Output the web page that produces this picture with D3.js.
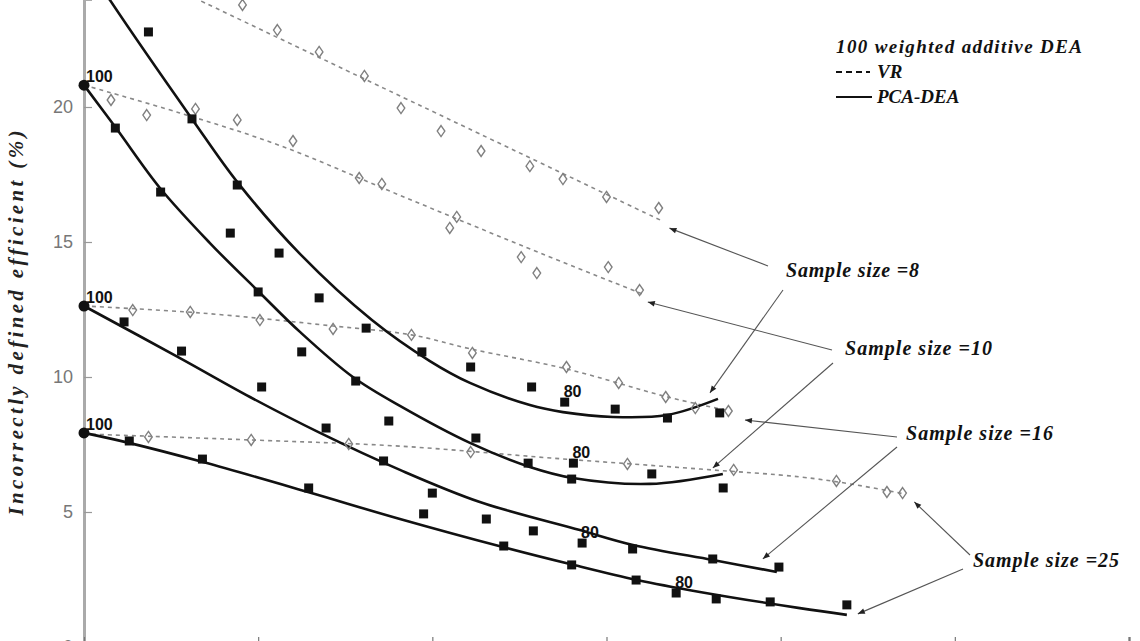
<!DOCTYPE html>
<html>
<head>
<meta charset="utf-8">
<script src="https://cdn.jsdelivr.net/npm/d3@7"></script>
<style>
  html, body { margin: 0; padding: 0; background: #fff; overflow: hidden; }
  .serif { font-family: "Liberation Serif", "Times New Roman", serif; font-style: italic; font-weight: bold; }
  .sans { font-family: "Liberation Sans", Arial, sans-serif; }
</style>
</head>
<body>
<script>
// axis ticks (x tick labels are cut off in the reference)
const xTicks = [0, 1, 2, 3, 4, 5, 6];
const yTicks = [0, 5, 10, 15, 20];

// sample size = 8
const vr8Points = [[0.91, 23.78], [1.11, 22.85], [1.35, 22.04], [1.61, 21.15], [1.82, 19.96], [2.05, 19.11],
    [2.28, 18.37], [2.56, 17.81], [2.75, 17.33], [3.00, 16.67], [3.30, 16.26]];
const vr8Fit = [[0.55, 24.3], [1.72, 20.70], [2.14, 19.41], [3.31, 15.81]];
const pca8Points = [[0.37, 22.78], [0.62, 19.56], [0.88, 17.11], [1.12, 14.59], [1.35, 12.93], [1.62, 11.81],
    [1.94, 10.93], [2.22, 10.37], [2.57, 9.63], [2.76, 9.07], [3.05, 8.81], [3.35, 8.48], [3.65, 8.67]];
const pca8Fit = [[0.115, 24.30], [0.149, 23.96], [0.62, 19.56], [0.884, 17.19], [1.24, 14.56], [1.653, 12.11],
    [1.986, 10.59], [2.216, 9.78], [2.56, 8.96], [2.75, 8.70], [3.037, 8.52], [3.347, 8.59], [3.64, 9.19]];

// sample size = 10
const vr10Points = [[0.155, 20.26], [0.36, 19.70], [0.64, 19.93], [0.88, 19.52], [1.20, 18.74], [1.58, 17.37],
    [1.71, 17.15], [2.14, 15.93], [2.10, 15.52], [2.51, 14.44], [2.60, 13.85], [3.01, 14.07], [3.19, 13.22]];
const vr10Fit = [[0, 20.81], [0.55, 19.78], [1.13, 18.56], [1.81, 16.74], [2.52, 14.85], [3.22, 13.04]];
const pca10Points = [[0.18, 19.22], [0.44, 16.85], [0.84, 15.33], [1.00, 13.15], [1.25, 10.93], [1.56, 9.85],
    [1.75, 8.37], [2.25, 7.74], [2.55, 6.81], [2.81, 6.81], [2.80, 6.22], [3.26, 6.41], [3.67, 5.89]];
const pca10Fit = [[0, 20.81], [0.184, 19.22], [0.436, 17.0], [0.723, 14.96], [1.005, 13.15], [1.24, 11.67],
    [1.544, 10.0], [1.814, 8.93], [2.216, 7.56], [2.56, 6.67], [2.807, 6.26], [3.249, 6.04], [3.668, 6.41]];

// sample size = 16
const vr16Points = [[0.28, 12.48], [0.61, 12.41], [1.01, 12.11], [1.43, 11.78], [1.88, 11.56], [2.23, 10.89],
    [2.77, 10.37], [3.07, 9.78], [3.34, 9.26], [3.51, 8.85], [3.70, 8.74]];
const vr16Fit = [[0, 12.63], [0.67, 12.37], [1.43, 11.89], [1.88, 11.56], [2.22, 11.04], [2.77, 10.30],
    [3.35, 9.26], [3.68, 8.78]];
const pca16Points = [[0.23, 12.04], [0.56, 10.96], [1.02, 9.63], [1.39, 8.11], [1.72, 6.89], [2.00, 5.70],
    [2.31, 4.74], [2.58, 4.30], [2.86, 3.85], [3.15, 3.63], [3.61, 3.26], [3.99, 2.96]];
const pca16Fit = [[0, 12.63], [0.551, 10.70], [0.953, 9.26], [1.355, 7.93], [1.814, 6.56], [2.273, 5.37],
    [2.847, 4.33], [3.152, 3.78], [3.611, 3.22], [3.978, 2.78]];

// sample size = 25
const vr25Points = [[0.37, 7.78], [0.96, 7.67], [1.52, 7.52], [2.22, 7.22], [3.12, 6.78], [3.73, 6.56],
    [4.32, 6.15], [4.61, 5.74], [4.70, 5.70]];
const vr25Fit = [[0, 7.89], [0.95, 7.67], [1.81, 7.44], [2.68, 7.00], [3.54, 6.59], [4.11, 6.30],
    [4.40, 6.04], [4.71, 5.67]];
const pca25Points = [[0.26, 7.63], [0.68, 6.96], [1.29, 5.89], [1.95, 4.93], [2.41, 3.74], [2.80, 3.04],
    [3.17, 2.48], [3.40, 2.00], [3.63, 1.78], [3.94, 1.67], [4.38, 1.56]];
const pca25Fit = [[0, 7.93], [0.258, 7.56], [0.683, 6.85], [1.286, 5.74], [1.814, 4.74], [2.405, 3.70],
    [2.79, 3.07], [3.175, 2.48], [3.536, 2.04], [4.11, 1.44], [4.38, 1.19]];

// "100" start points and "80" marked points
const startPoints = [[0, 20.81], [0, 12.63], [0, 7.93]];
const startLabel = "100";
const marked80 = [[2.76, 9.07], [2.81, 6.81], [2.86, 3.85], [3.40, 2.00]];
const markedLabel = "80";

const sampleNames = ["Sample size =8", "Sample size =10", "Sample size =16", "Sample size =25"];
const legendTitle = "100 weighted additive DEA";
const legendItems = ["VR", "PCA-DEA"];
const yTitle = "Incorrectly defined efficient (%)";

const width = 1140, height = 641;

const x = d3.scaleLinear().domain([0, 6]).range([84, 1129]);
const y = d3.scaleLinear().domain([0, 24]).range([647, -1]);

const svg = d3.select("body").append("svg")
    .attr("width", width)
    .attr("height", height)
    .style("display", "block");

svg.append("defs").append("marker")
    .attr("id", "arrow")
    .attr("viewBox", "0 0 10 10")
    .attr("refX", 10).attr("refY", 5)
    .attr("markerWidth", 10).attr("markerHeight", 7)
    .attr("markerUnits", "userSpaceOnUse")
    .attr("orient", "auto")
    .append("path")
    .attr("d", "M0,1 L10,5 L0,9 Z")
    .attr("fill", "#222");

// axes
const yAxis = svg.append("g")
    .attr("transform", "translate(" + x(0) + ",0)")
    .call(d3.axisRight(y).tickValues(yTicks).tickSize(8).tickFormat(""));
yAxis.select(".domain").attr("stroke", "#aaa").attr("stroke-width", 3);
yAxis.selectAll(".tick line").attr("stroke", "#999").attr("stroke-width", 1.2);

svg.append("g").selectAll("text")
    .data(yTicks)
    .enter().append("text")
    .attr("class", "sans")
    .attr("x", x(0) - 11)
    .attr("y", d => y(d))
    .attr("dy", "0.36em")
    .attr("text-anchor", "end")
    .attr("font-size", 18)
    .attr("fill", "#777")
    .text(d => d);

const xAxis = svg.append("g")
    .attr("transform", "translate(0," + y(0) + ")")
    .call(d3.axisTop(x).tickValues(xTicks).tickSize(10).tickFormat(""));
xAxis.select(".domain").attr("stroke", "#aaa").attr("stroke-width", 3);
xAxis.selectAll(".tick line").attr("stroke", "#777").attr("stroke-width", 1.2);

svg.append("text")
    .attr("class", "serif")
    .attr("transform", "translate(23,323) rotate(-90)")
    .attr("text-anchor", "middle")
    .attr("font-size", 21)
    .attr("textLength", 385)
    .attr("lengthAdjust", "spacing")
    .attr("fill", "#222")
    .text(yTitle);

// fitted lines
const line = d3.line()
    .x(d => x(d[0]))
    .y(d => y(d[1]))
    .curve(d3.curveCatmullRom.alpha(0.5));

const vrFits = [vr8Fit, vr10Fit, vr16Fit, vr25Fit];
const pcaFits = [pca8Fit, pca10Fit, pca16Fit, pca25Fit];

svg.append("g").selectAll("path")
    .data(vrFits)
    .enter().append("path")
    .attr("d", line)
    .attr("fill", "none")
    .attr("stroke", "#888")
    .attr("stroke-width", 1.6)
    .attr("stroke-dasharray", "4,4");

svg.append("g").selectAll("path")
    .data(pcaFits)
    .enter().append("path")
    .attr("d", line)
    .attr("fill", "none")
    .attr("stroke", "#111")
    .attr("stroke-width", 2.6);

// markers
const vrPoints = [].concat(vr8Points, vr10Points, vr16Points, vr25Points);
const pcaPoints = [].concat(pca8Points, pca10Points, pca16Points, pca25Points);

svg.append("g").selectAll("path")
    .data(vrPoints)
    .enter().append("path")
    .attr("transform", d => "translate(" + x(d[0]) + "," + y(d[1]) + ")")
    .attr("d", "M0,-5.5 L3.8,0 L0,5.5 L-3.8,0 Z")
    .attr("fill", "none")
    .attr("stroke", "#808080")
    .attr("stroke-width", 1.4);

svg.append("g").selectAll("path")
    .data(pcaPoints)
    .enter().append("path")
    .attr("transform", d => "translate(" + x(d[0]) + "," + y(d[1]) + ")")
    .attr("d", d3.symbol().type(d3.symbolSquare).size(81))
    .attr("fill", "#111");

svg.append("g").selectAll("circle")
    .data(startPoints)
    .enter().append("circle")
    .attr("cx", d => x(d[0]))
    .attr("cy", d => y(d[1]))
    .attr("r", 5.5)
    .attr("fill", "#111");

svg.append("g").selectAll("text")
    .data(startPoints)
    .enter().append("text")
    .attr("class", "sans")
    .attr("x", d => x(d[0]) + 2)
    .attr("y", d => y(d[1]) - 3)
    .attr("font-size", 16)
    .attr("font-weight", "bold")
    .attr("fill", "#111")
    .text(startLabel);

svg.append("g").selectAll("text")
    .data(marked80)
    .enter().append("text")
    .attr("class", "sans")
    .attr("x", d => x(d[0]) - 1)
    .attr("y", d => y(d[1]) - 5)
    .attr("font-size", 16)
    .attr("font-weight", "bold")
    .attr("fill", "#111")
    .text(markedLabel);

// legend
const legend = svg.append("g");
legend.append("text")
    .attr("class", "serif")
    .attr("x", 836).attr("y", 53)
    .attr("font-size", 19)
    .attr("textLength", 246)
    .attr("lengthAdjust", "spacing")
    .attr("fill", "#111")
    .text(legendTitle);
legend.append("line")
    .attr("x1", 836).attr("x2", 870).attr("y1", 72).attr("y2", 72)
    .attr("stroke", "#111").attr("stroke-width", 2).attr("stroke-dasharray", "6,4");
legend.append("line")
    .attr("x1", 836).attr("x2", 872).attr("y1", 97).attr("y2", 97)
    .attr("stroke", "#111").attr("stroke-width", 2);
legend.selectAll("text.item")
    .data(legendItems)
    .enter().append("text")
    .attr("class", "serif item")
    .attr("x", 877)
    .attr("y", (d, i) => 78 + i * 25)
    .attr("font-size", 19)
    .attr("fill", "#111")
    .text(d => d);

// sample size labels with leader arrows
const labelPos = [[786, 277, 133], [845, 355, 147], [906, 440, 147], [973, 567, 146]];
const tails = [[[768, 266], [783, 290]], [[832, 350], [833, 363]], [[897, 437], [897, 447]], [[970, 555], [963, 569]]];
const tipOffsets = [[[9, 8], [-8, -6]], [[3, 7], [-10, -6]], [[20, 10], [-14, -13]], [[10, 8], [11, -1]]];

svg.append("g").selectAll("text")
    .data(sampleNames)
    .enter().append("text")
    .attr("class", "serif")
    .attr("x", (d, i) => labelPos[i][0])
    .attr("y", (d, i) => labelPos[i][1])
    .attr("font-size", 20)
    .attr("textLength", (d, i) => labelPos[i][2])
    .attr("lengthAdjust", "spacing")
    .attr("fill", "#111")
    .text(d => d);

const arrows = [];
sampleNames.forEach((name, i) => {
    const ends = [vrFits[i][vrFits[i].length - 1], pcaFits[i][pcaFits[i].length - 1]];
    ends.forEach((e, j) => {
        arrows.push({
            from: tails[i][j],
            to: [x(e[0]) + tipOffsets[i][j][0], y(e[1]) + tipOffsets[i][j][1]]
        });
    });
});

svg.append("g").selectAll("line")
    .data(arrows)
    .enter().append("line")
    .attr("x1", d => d.from[0]).attr("y1", d => d.from[1])
    .attr("x2", d => d.to[0]).attr("y2", d => d.to[1])
    .attr("stroke", "#555")
    .attr("stroke-width", 1.1)
    .attr("marker-end", "url(#arrow)");
</script>
</body>
</html>
